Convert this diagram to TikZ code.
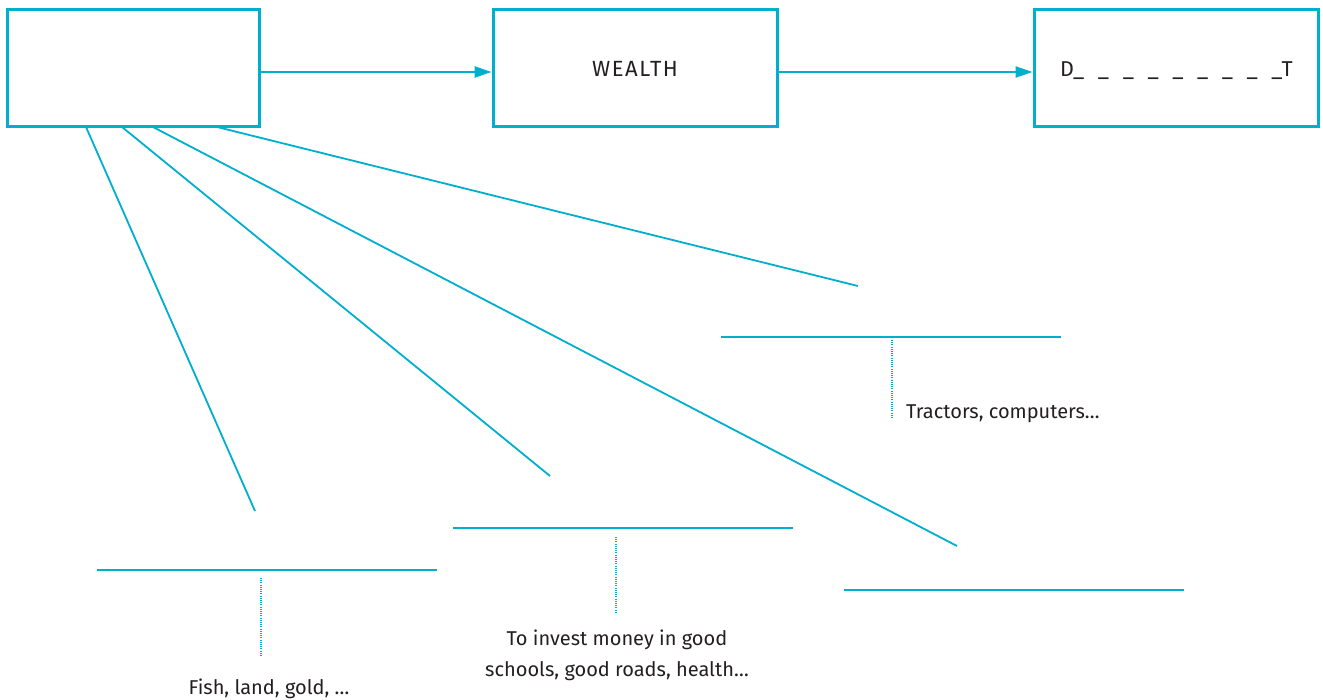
\documentclass[tikz,border=0pt]{standalone}
\usepackage{fontspec}
\setmainfont{Fira Sans}
\usetikzlibrary{arrows.meta,calc}
\definecolor{cy}{RGB}{0,174,206}
\definecolor{ink}{RGB}{35,31,32}
\begin{document}
\begin{tikzpicture}[x=1pt,y=-1pt,
  box/.style={draw=cy,line width=3pt,minimum height=117pt,inner sep=0pt,text=ink},
  arr/.style={draw=cy,line width=2.4pt,-{Triangle[length=17pt,width=11pt]}},
  fan/.style={draw=cy,line width=1.8pt},
  blank/.style={draw=cy,line width=2.2pt},
  dots/.style={draw=cy,line width=1.4pt,dash pattern=on 1pt off 1.2pt},
  lbl/.style={text=ink,inner sep=0pt,font=\fontsize{20}{31}\selectfont}]
\useasboundingbox (0,0) rectangle (1323,700);
\node[box,minimum width=252pt] (b1) at (133,68.5) {};
\node[box,minimum width=284pt] (b2) at (635,68.5) {};
\node[box,minimum width=284pt] (b3) at (1176,68.5) {};
\node[lbl,anchor=base,font=\fontsize{22}{26}\selectfont\addfontfeatures{LetterSpace=7}] (tw) at (635,77) {WEALTH};
\node[lbl,anchor=base west,font=\fontsize{21.5}{26}\selectfont] (td) at (1060,77) {D\_\hspace{13.6pt}\_\hspace{13.6pt}\_\hspace{13.6pt}\_\hspace{13.6pt}\_\hspace{13.6pt}\_\hspace{13.6pt}\_\hspace{13.6pt}\_\hspace{13.6pt}\_T};
\draw[arr] ([yshift=-3.5pt]b1.east) -- ([yshift=-3.5pt]b2.west);
\draw[arr] ([yshift=-3.5pt]b2.east) -- ([yshift=-3.5pt]b3.west);
% fan start points on the bottom of box 1
\coordinate (s1) at (86,127);
\coordinate (s2) at (122,127);
\coordinate (s3) at (153,127);
\coordinate (s4) at (217,127);
\coordinate (e1) at (255,511);
\coordinate (e2) at (550,476);
\coordinate (e3) at (957,546);
\coordinate (e4) at (858,286);
\draw[fan] (s1) -- (e1);
\draw[fan] (s2) -- (e2);
\draw[fan] (s3) -- (e3);
\draw[fan] (s4) -- (e4);
% answer lines
\coordinate (h1a) at (97,570);  \coordinate (h1b) at (437,570);
\coordinate (h2a) at (453,528); \coordinate (h2b) at (793,528);
\coordinate (h3a) at (844,590); \coordinate (h3b) at (1184,590);
\coordinate (h4a) at (721,337); \coordinate (h4b) at (1061,337);
\draw[blank] (h1a) -- (h1b);
\draw[blank] (h2a) -- (h2b);
\draw[blank] (h3a) -- (h3b);
\draw[blank] (h4a) -- (h4b);
% hint labels
\node[lbl,anchor=base] (t1) at (269,694) {Fish, land, gold, \dots};
\node[lbl,anchor=base,align=center] (t2) at (617,676) {To invest money in good\\schools, good roads, health\dots};
\node[lbl,anchor=base west] (t4) at (906,419) {Tractors, computers\dots};
\coordinate (d1a) at (261,578); \coordinate (d1b) at (261,656);
\coordinate (d2a) at (616,537); \coordinate (d2b) at (616,614);
\coordinate (d4a) at (892,340); \coordinate (d4b) at (892,418);
\draw[dots] (d1a) -- (d1b);
\draw[dots] (d2a) -- (d2b);
\draw[dots] (d4a) -- (d4b);
\end{tikzpicture}
\end{document}
